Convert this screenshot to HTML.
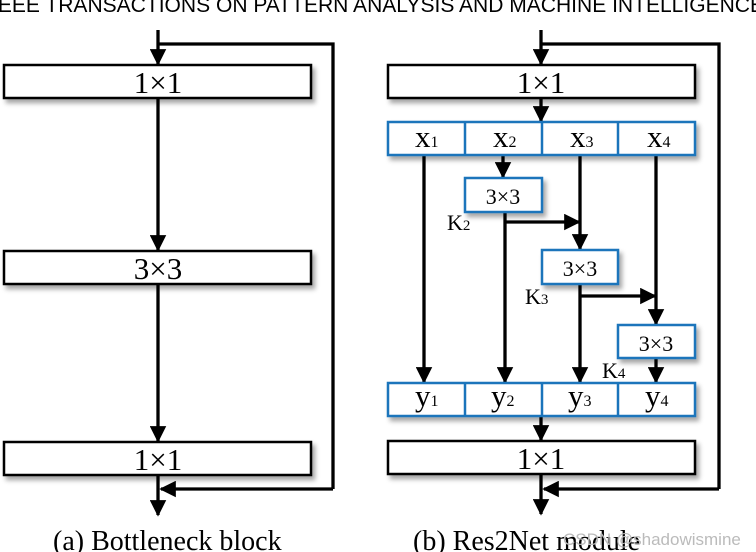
<!DOCTYPE html>
<html><head><meta charset="utf-8"><style>
html,body{margin:0;padding:0;background:#fff;}
svg{display:block;}
.t{font-family:"Liberation Serif",serif;fill:#000;}
</style></head><body>
<svg width="756" height="552" viewBox="0 0 756 552" xmlns="http://www.w3.org/2000/svg">
<defs>
<marker id="a" viewBox="0 0 10 10" refX="9" refY="5" markerWidth="5" markerHeight="5" orient="auto" markerUnits="strokeWidth">
<path d="M0,0 L10,5 L0,10 z" fill="#000"/></marker>
<filter id="sh" x="-5%" y="-20%" width="115%" height="160%"><feDropShadow dx="3" dy="4" stdDeviation="2.5" flood-color="#000" flood-opacity="0.35"/></filter>
</defs>
<text x="-8" y="12" font-family="Liberation Sans,sans-serif" font-size="21" textLength="772" lengthAdjust="spacingAndGlyphs" fill="#000">IEEE TRANSACTIONS ON PATTERN ANALYSIS AND MACHINE INTELLIGENCE</text>

<g stroke="#000" stroke-width="3.3" fill="none">
<line x1="158" y1="30" x2="158" y2="64" marker-end="url(#a)"/>
<polyline points="158,44 333,44 333,489"/>
<line x1="333" y1="489" x2="161" y2="489" marker-end="url(#a)"/>
<line x1="158" y1="98" x2="158" y2="250" marker-end="url(#a)"/>
<line x1="158" y1="284" x2="158" y2="441" marker-end="url(#a)"/>
<line x1="158" y1="475" x2="158" y2="515" marker-end="url(#a)"/>
<line x1="541" y1="30" x2="541" y2="64" marker-end="url(#a)"/>
<polyline points="541,44 719,44 719,489"/>
<line x1="719" y1="489" x2="544" y2="489" marker-end="url(#a)"/>
<line x1="541" y1="98" x2="541" y2="121" marker-end="url(#a)"/>
<line x1="541" y1="416" x2="541" y2="440" marker-end="url(#a)"/>
<line x1="541" y1="474" x2="541" y2="514" marker-end="url(#a)"/>
<line x1="424" y1="155" x2="424" y2="382" marker-end="url(#a)"/>
<line x1="503" y1="155" x2="503" y2="177" marker-end="url(#a)"/>
<line x1="505" y1="212" x2="505" y2="382" marker-end="url(#a)"/>
<line x1="505" y1="222" x2="579" y2="222" marker-end="url(#a)"/>
<line x1="580" y1="155" x2="580" y2="249" marker-end="url(#a)"/>
<line x1="580" y1="284" x2="580" y2="382" marker-end="url(#a)"/>
<line x1="580" y1="296" x2="655" y2="296" marker-end="url(#a)"/>
<line x1="656" y1="155" x2="656" y2="324" marker-end="url(#a)"/>
<line x1="656" y1="358" x2="656" y2="382" marker-end="url(#a)"/>
</g>

<g filter="url(#sh)">
<rect x="4" y="65" width="307" height="33" fill="#fff" stroke="#000" stroke-width="2.5"/>
<rect x="4" y="251" width="307" height="33" fill="#fff" stroke="#000" stroke-width="2.5"/>
<rect x="4" y="442" width="307" height="33" fill="#fff" stroke="#000" stroke-width="2.5"/>
<rect x="388" y="65" width="307" height="33" fill="#fff" stroke="#000" stroke-width="2.5"/>
<rect x="388" y="441" width="307" height="33" fill="#fff" stroke="#000" stroke-width="2.5"/>
<rect x="388" y="122" width="307" height="33" fill="#fff" stroke="#1a74bb" stroke-width="2.5"/>
<rect x="388" y="383" width="307" height="33" fill="#fff" stroke="#1a74bb" stroke-width="2.5"/>
<rect x="465" y="178" width="77" height="34" fill="#fff" stroke="#1a74bb" stroke-width="2.5"/>
<rect x="542" y="250" width="76" height="34" fill="#fff" stroke="#1a74bb" stroke-width="2.5"/>
<rect x="618" y="325" width="77" height="33" fill="#fff" stroke="#1a74bb" stroke-width="2.5"/>
</g>
<g stroke="#1a74bb" stroke-width="2.5">
<line x1="465" y1="122" x2="465" y2="155"/><line x1="542" y1="122" x2="542" y2="155"/><line x1="618" y1="122" x2="618" y2="155"/>
<line x1="465" y1="383" x2="465" y2="416"/><line x1="542" y1="383" x2="542" y2="416"/><line x1="618" y1="383" x2="618" y2="416"/>
</g>

<g class="t" font-size="31" text-anchor="middle">
<text x="158" y="93">1×1</text>
<text x="158" y="279">3×3</text>
<text x="158" y="470">1×1</text>
<text x="541" y="93">1×1</text>
<text x="541" y="469">1×1</text>
</g>
<g class="t" font-size="22" text-anchor="middle">
<text x="503" y="204">3×3</text>
<text x="580" y="276">3×3</text>
<text x="656" y="351">3×3</text>
</g>
<g class="t" font-size="31">
<text x="415" y="147">x<tspan font-size="16">1</tspan></text>
<text x="493" y="147">x<tspan font-size="16">2</tspan></text>
<text x="570" y="147">x<tspan font-size="16">3</tspan></text>
<text x="647" y="147">x<tspan font-size="16">4</tspan></text>
<text x="415" y="406">y<tspan font-size="16">1</tspan></text>
<text x="491" y="406">y<tspan font-size="16">2</tspan></text>
<text x="568" y="406">y<tspan font-size="16">3</tspan></text>
<text x="645" y="406">y<tspan font-size="16">4</tspan></text>
</g>
<g class="t" font-size="22">
<text x="447" y="230">K<tspan font-size="15">2</tspan></text>
<text x="525" y="304">K<tspan font-size="15">3</tspan></text>
<text x="602" y="378">K<tspan font-size="15">4</tspan></text>
</g>
<g class="t" font-size="28">
<text x="53" y="550">(a) Bottleneck block</text>
<text x="413" y="550">(b) Res2Net module</text>
</g>
<text x="563" y="545" font-family="Liberation Sans,sans-serif" font-size="17" fill="#bbb">CSDN @shadowismine</text>
</svg>
</body></html>
